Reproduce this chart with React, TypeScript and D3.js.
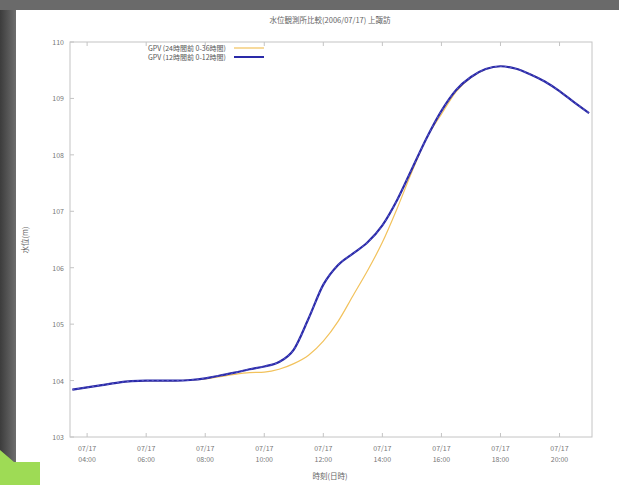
import React, { useEffect, useRef } from "react";
import * as d3 from "d3";

// time in hours (07/17), water level
const hours = [3.5, 4, 4.5, 5, 5.5, 6, 6.5, 7, 7.5, 8, 8.5, 9, 9.5, 10, 10.5, 11, 11.5, 12, 12.5, 13, 13.5, 14, 14.5, 15, 15.5, 16, 16.5, 17, 17.5, 18, 18.5, 19, 19.5, 20, 20.5, 21];
const gpvA = [103.84, 103.88, 103.92, 103.96, 103.99, 104.0, 104.0, 104.0, 104.01, 104.03, 104.07, 104.11, 104.14, 104.15, 104.2, 104.3, 104.45, 104.7, 105.05, 105.5, 105.95, 106.45, 107.05, 107.7, 108.3, 108.72, 109.12, 109.37, 109.52, 109.57, 109.53, 109.43, 109.3, 109.13, 108.93, 108.74];
const gpvB = [103.84, 103.88, 103.92, 103.96, 103.99, 104.0, 104.0, 104.0, 104.01, 104.04, 104.09, 104.14, 104.2, 104.25, 104.33, 104.55, 105.1, 105.7, 106.05, 106.25, 106.45, 106.75, 107.2, 107.75, 108.3, 108.78, 109.15, 109.38, 109.52, 109.57, 109.53, 109.43, 109.3, 109.13, 108.93, 108.74];
const xTicks = [4, 6, 8, 10, 12, 14, 16, 18, 20];
const yTicks = [103, 104, 105, 106, 107, 108, 109, 110];
const seriesNames = ["GPV (24時間前 0-36時間)", "GPV (12時間前 0-12時間)"];
const title = "水位観測所比較(2006/07/17) 上諏訪";

export default function App() {
  const ref = useRef<SVGSVGElement>(null);

  useEffect(() => {
    const svg = d3.select(ref.current);
    svg.selectAll("*").remove();
    const W = 619, H = 485;
    const m = { left: 70, right: 27, top: 42, bottom: 48 };

    // slide-like background
    svg.append("rect").attr("width", W).attr("height", H).attr("fill", "#ffffff");
    const grad = svg.append("defs").append("linearGradient").attr("id", "lg").attr("x1", 0).attr("x2", 1);
    grad.append("stop").attr("offset", 0).attr("stop-color", "#3c3c3c");
    grad.append("stop").attr("offset", 1).attr("stop-color", "#6e6e6e");
    svg.append("rect").attr("width", 16).attr("height", H).attr("fill", "url(#lg)");
    svg.append("rect").attr("width", W).attr("height", 10).attr("fill", "#6a6a6a");
    svg.append("polygon")
      .attr("points", "0,450 14,462 40,462 40,485 0,485")
      .attr("fill", "#9edb55");

    const x = d3.scaleLinear().domain([3.42, 21.1]).range([m.left, W - m.right]);
    const y = d3.scaleLinear().domain([103, 110]).range([H - m.bottom, m.top]);

    const g = svg.append("g").attr("font-family", "'Noto Sans CJK JP', sans-serif").attr("fill", "#666");

    g.append("rect")
      .attr("x", m.left).attr("y", m.top)
      .attr("width", W - m.left - m.right).attr("height", H - m.top - m.bottom)
      .attr("fill", "none").attr("stroke", "#c4c4c4");

    yTicks.forEach(t => {
      g.append("line").attr("x1", m.left).attr("x2", m.left + 4).attr("y1", y(t)).attr("y2", y(t)).attr("stroke", "#c4c4c4");
      g.append("text").attr("x", m.left - 6).attr("y", y(t) + 3).attr("text-anchor", "end")
        .attr("font-size", 7).attr("fill", "#777").text(t.toFixed(0));
    });
    xTicks.forEach(t => {
      [H - m.bottom, m.top].forEach((yy, i) => {
        g.append("line").attr("x1", x(t)).attr("x2", x(t)).attr("y1", yy).attr("y2", i ? yy + 4 : yy - 4).attr("stroke", "#c4c4c4");
      });
      const hh = String(t).padStart(2, "0") + ":00";
      g.append("text").attr("x", x(t)).attr("y", H - m.bottom + 14).attr("text-anchor", "middle")
        .attr("font-size", 7).attr("fill", "#777").text("07/17");
      g.append("text").attr("x", x(t)).attr("y", H - m.bottom + 25).attr("text-anchor", "middle")
        .attr("font-size", 7).attr("fill", "#777").text(hh);
    });

    g.append("text").attr("x", 330).attr("y", 23).attr("text-anchor", "middle")
      .attr("font-size", 7.5).attr("fill", "#666").text(title);
    g.append("text").attr("x", 330).attr("y", 479).attr("text-anchor", "middle")
      .attr("font-size", 7.5).attr("fill", "#666").text("時刻(日時)");
    g.append("text").attr("transform", "translate(28,240) rotate(-90)").attr("text-anchor", "middle")
      .attr("font-size", 7.5).attr("fill", "#666").text("水位(m)");

    const line = d3.line<number>()
      .x((d, i) => x(hours[i]))
      .y(d => y(d))
      .curve(d3.curveMonotoneX);

    g.append("path").datum(gpvA).attr("d", line).attr("fill", "none")
      .attr("stroke", "#f2c25c").attr("stroke-width", 1.2);
    g.append("path").datum(gpvB).attr("d", line).attr("fill", "none")
      .attr("stroke", "#2a2aa8").attr("stroke-width", 2.2);
    g.append("path").datum(gpvB).attr("d", line).attr("fill", "none")
      .attr("stroke", "#6a6ad8").attr("stroke-width", 0.8).attr("stroke-dasharray", "2,3");

    // legend
    const lx = 226;
    [0, 1].forEach(i => {
      const ly = 48 + i * 9;
      g.append("text").attr("x", lx).attr("y", ly + 2.5).attr("text-anchor", "end")
        .attr("font-size", 7).attr("fill", "#555").text(seriesNames[i]);
      g.append("line").attr("x1", lx + 8).attr("x2", lx + 38).attr("y1", ly).attr("y2", ly)
        .attr("stroke", i ? "#2a2aa8" : "#f2c25c").attr("stroke-width", i ? 2 : 1.2);
    });
  }, []);

  return <svg ref={ref} width={619} height={485} style={{ position: "absolute", left: 0, top: 0 }} />;
}
